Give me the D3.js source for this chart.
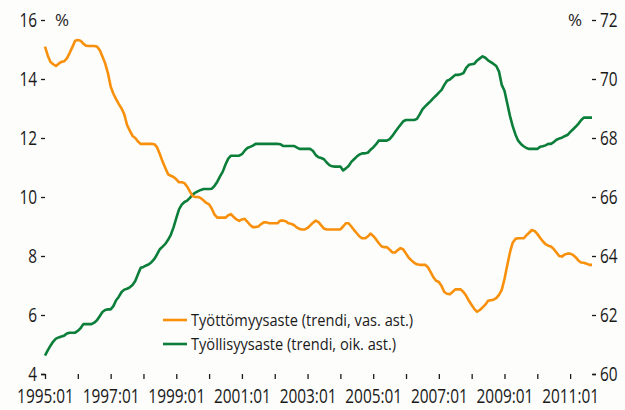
<!DOCTYPE html>
<html>
<head>
<meta charset="utf-8">
<script src="https://cdn.jsdelivr.net/npm/d3@7"></script>
<style>
  body { margin: 0; background: #fdfdfb; }
  text { font-family: "Open Sans", sans-serif; fill: #1a1a1a; }
</style>
</head>
<body>
<div id="chart"></div>
<script>
// monthly trend values, 1995:01 .. 2011:09
const startYear = 1995

const unemployment = [
  15.1, 14.8, 14.58, 14.5, 14.44, 14.52, 14.58, 14.6, 14.7, 14.88, 15.08, 15.3,
  15.32, 15.3, 15.2, 15.13, 15.12, 15.12, 15.12, 15.1, 14.98, 14.76, 14.53, 14.2,
  13.75, 13.5, 13.32, 13.15, 13.0, 12.8, 12.44, 12.25, 12.07, 12.0, 11.88, 11.8,
  11.8, 11.8, 11.8, 11.8, 11.79, 11.68, 11.45, 11.2, 10.98, 10.77, 10.72, 10.68,
  10.6, 10.5, 10.5, 10.47, 10.35, 10.18, 10.03, 10.0, 10.0, 9.96, 9.88, 9.8,
  9.75, 9.6, 9.4, 9.3, 9.3, 9.3, 9.3, 9.38, 9.42, 9.32, 9.24, 9.19,
  9.24, 9.26, 9.16, 9.05, 8.98, 8.98, 9.0, 9.08, 9.14, 9.14, 9.11, 9.11,
  9.11, 9.11, 9.2, 9.2, 9.18, 9.11, 9.09, 9.05, 8.97, 8.92, 8.9, 8.9,
  8.95, 9.04, 9.13, 9.2, 9.15, 9.04, 8.93, 8.9, 8.9, 8.9, 8.9, 8.9,
  8.9, 9.0, 9.11, 9.11, 9.0, 8.88, 8.77, 8.66, 8.6, 8.6, 8.66, 8.76,
  8.68, 8.57, 8.44, 8.33, 8.3, 8.3, 8.22, 8.12, 8.12, 8.2, 8.27, 8.22,
  8.08, 7.94, 7.85, 7.77, 7.72, 7.7, 7.7, 7.7, 7.62, 7.45, 7.28, 7.16,
  7.12, 6.98, 6.78, 6.72, 6.7, 6.78, 6.87, 6.87, 6.87, 6.78, 6.65, 6.48,
  6.34, 6.2, 6.11, 6.17, 6.26, 6.35, 6.48, 6.5, 6.52, 6.57, 6.68, 6.85,
  7.22, 7.68, 8.12, 8.45, 8.58, 8.6, 8.6, 8.6, 8.7, 8.79, 8.88, 8.85,
  8.75, 8.62, 8.5, 8.4, 8.35, 8.32, 8.24, 8.12, 8.0, 7.98, 8.05, 8.08,
  8.08, 8.04, 7.96, 7.85, 7.78, 7.77, 7.74, 7.7, 7.7
]

const employment = [
  60.62, 60.8, 60.96, 61.1, 61.2, 61.24, 61.27, 61.3, 61.37, 61.4, 61.4, 61.4,
  61.46, 61.55, 61.69, 61.69, 61.69, 61.69, 61.74, 61.82, 61.96, 62.1, 62.17, 62.19,
  62.19, 62.3, 62.5, 62.62, 62.78, 62.86, 62.89, 62.94, 63.02, 63.15, 63.38, 63.6,
  63.63, 63.68, 63.72, 63.8, 63.9, 64.06, 64.23, 64.32, 64.41, 64.55, 64.72, 64.97,
  65.28, 65.58, 65.74, 65.83, 65.88, 65.97, 66.08, 66.15, 66.2, 66.24, 66.27, 66.27,
  66.27, 66.28, 66.38, 66.52, 66.7, 66.86, 67.1, 67.3, 67.4, 67.4, 67.4, 67.4,
  67.45, 67.57, 67.66, 67.7, 67.74, 67.8, 67.8, 67.8, 67.8, 67.8, 67.8, 67.8,
  67.8, 67.8, 67.79, 67.73, 67.73, 67.73, 67.73, 67.73, 67.68, 67.63, 67.63, 67.63,
  67.63, 67.63, 67.56, 67.42, 67.35, 67.32, 67.28, 67.17, 67.08, 67.04, 67.03, 67.03,
  67.03, 66.9, 66.97, 67.05, 67.19, 67.28, 67.37, 67.44, 67.48, 67.48, 67.5, 67.6,
  67.68, 67.78, 67.91, 67.91, 67.91, 67.91, 67.96, 68.07, 68.2, 68.33, 68.45, 68.57,
  68.61, 68.61, 68.61, 68.61, 68.65, 68.8, 68.97, 69.07, 69.16, 69.25, 69.35, 69.44,
  69.54, 69.63, 69.8, 69.94, 69.98, 70.06, 70.14, 70.14, 70.16, 70.2, 70.38, 70.48,
  70.5, 70.52, 70.63, 70.7, 70.77, 70.72, 70.63, 70.57, 70.51, 70.44, 70.25, 69.8,
  69.6, 69.18, 68.75, 68.4, 68.12, 67.91, 67.8, 67.72, 67.66, 67.63, 67.63, 67.63,
  67.63, 67.7, 67.72, 67.75, 67.8, 67.8, 67.86, 67.94, 67.98, 68.01, 68.06, 68.1,
  68.2, 68.29, 68.38, 68.48, 68.6, 68.69, 68.69, 68.69, 68.69
]

const leftTicks = [4, 6, 8, 10, 12, 14, 16]
const rightTicks = [60, 62, 64, 66, 68, 70, 72]
const seriesNames = ['Työttömyysaste (trendi, vas. ast.)', 'Työllisyysaste (trendi, oik. ast.)']
const seriesColors = ['#f8900c', '#0b7e3a']

const width = 625
const height = 410
const margin = { top: 20, right: 33, bottom: 36, left: 45 }
const squeeze = 0.77 // the original font is narrow

const svg = d3.select('#chart')
  .append('svg')
  .attr('width', width)
  .attr('height', height)

const x = d3.scaleLinear()
  .domain([0, unemployment.length - 1])
  .range([margin.left, width - margin.right])

const yLeft = d3.scaleLinear().domain([4, 16]).range([height - margin.bottom, margin.top])
const yRight = d3.scaleLinear().domain([60, 72]).range([height - margin.bottom, margin.top])

// one tick per January, label every second year
const yearTicks = d3.range(0, unemployment.length, 12)

const xAxis = d3.axisBottom(x)
  .tickValues(yearTicks)
  .tickSize(5)
  .tickPadding(10)
  .tickFormat(m => {
    const yr = startYear + m / 12
    return (yr - startYear) % 2 === 0 ? yr + ':01' : ''
  })

svg.append('g')
  .attr('class', 'axis x-axis')
  .attr('transform', `translate(0,${height - margin.bottom})`)
  .call(xAxis)

svg.append('g')
  .attr('class', 'axis y-axis')
  .attr('transform', `translate(${margin.left},0)`)
  .call(d3.axisLeft(yLeft).tickValues(leftTicks).tickSize(4))

svg.append('g')
  .attr('class', 'axis y-axis-right')
  .attr('transform', `translate(${width - margin.right},0)`)
  .call(d3.axisRight(yRight).tickValues(rightTicks).tickSize(4))

svg.selectAll('.axis path, .axis line')
  .attr('stroke', '#1a1a1a')
  .attr('stroke-width', 1.3)
svg.selectAll('.axis path').attr('d', function () {
  return d3.select(this).attr('d').replace(/V-?\d+(\.\d+)?H/, 'H').replace(/H-?\d+(\.\d+)?V/, 'V')
})
svg.selectAll('.axis text')
  .attr('font-size', 20)
  .attr('fill', '#1a1a1a')
  .attr('transform', `scale(${squeeze},1)`)
svg.selectAll('.y-axis text').attr('x', -8 / squeeze)
svg.selectAll('.y-axis-right text').attr('x', 8 / squeeze)

// unit labels
svg.append('text').text('%')
  .attr('x', margin.left + 10).attr('y', margin.top + 6)
  .attr('font-size', 17)
svg.append('text').text('%')
  .attr('x', width - margin.right - 10).attr('y', margin.top + 6)
  .attr('text-anchor', 'end')
  .attr('font-size', 17)

const lineLeft = d3.line().x((d, i) => x(i)).y(d => yLeft(d))
const lineRight = d3.line().x((d, i) => x(i)).y(d => yRight(d))

svg.append('path')
  .datum(employment)
  .attr('d', lineRight)
  .attr('fill', 'none')
  .attr('stroke', seriesColors[1])
  .attr('stroke-width', 2.6)
  .attr('stroke-linejoin', 'round')

svg.append('path')
  .datum(unemployment)
  .attr('d', lineLeft)
  .attr('fill', 'none')
  .attr('stroke', seriesColors[0])
  .attr('stroke-width', 2.6)
  .attr('stroke-linejoin', 'round')

// legend
const legend = svg.append('g')
  .attr('transform', 'translate(163,320)')

seriesNames.forEach((name, i) => {
  const g = legend.append('g').attr('transform', `translate(0,${i * 24})`)
  g.append('line')
    .attr('x1', 0).attr('x2', 24)
    .attr('stroke', seriesColors[i])
    .attr('stroke-width', 2.6)
  g.append('text')
    .text(name)
    .attr('x', 28 / 0.86)
    .attr('dy', '0.35em')
    .attr('font-size', 17)
    .attr('transform', 'scale(0.86,1)')
})
</script>
</body>
</html>
